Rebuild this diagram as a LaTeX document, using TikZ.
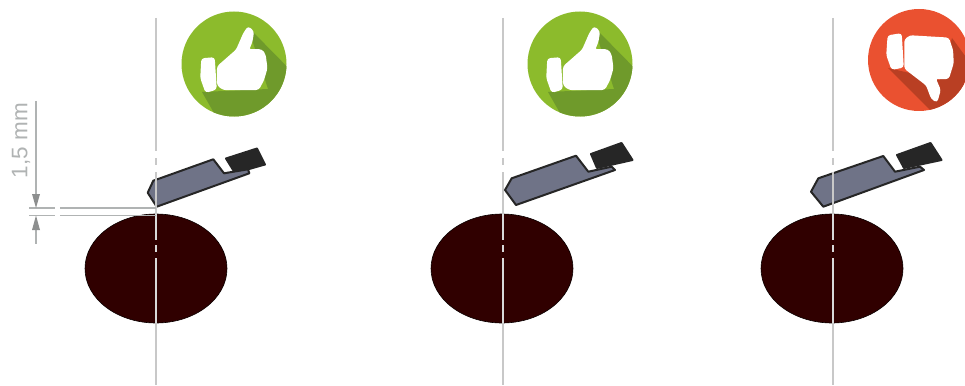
\documentclass[tikz,border=0pt]{standalone}
\usepackage{fontspec}
\setmainfont{Liberation Sans}
\usetikzlibrary{arrows.meta}
\definecolor{cgreen}{HTML}{8CBB2C}
\definecolor{cgreenS}{HTML}{6F9A2B}
\definecolor{cred}{HTML}{EA5130}
\definecolor{credS}{HTML}{B93F23}
\definecolor{cbar}{HTML}{300000}
\definecolor{cline}{HTML}{C8C8C8}
\definecolor{cdim}{HTML}{B0B3B3}
\definecolor{ctool}{HTML}{6F7387}
\definecolor{cins}{HTML}{262626}
\tikzset{
  bar/.style={fill=cbar,draw=black!80!cbar,line width=.6pt},
  holder/.style={fill=ctool,draw=black!85,line width=2pt,line join=round},
  insert/.style={fill=cins,draw=cins,line width=2pt,line join=round},
  axisline/.style={draw=cline,line width=1.3pt},
  axisin/.style={draw=cline!70!white,line width=1.3pt},
  dimline/.style={draw=cdim,line width=1.1pt},
  hand/.style={fill=white,draw=white,line width=1.5pt,rounded corners=2.5pt}
}
\newcommand{\axisat}[1]{%
  \draw[axisline] (#1,18) -- (#1,151);
  \draw[axisline] (#1,158) -- (#1,165);
  \draw[axisline] (#1,172) -- (#1,214);
  \draw[axisin] (#1,214) -- (#1,240);
  \draw[axisin] (#1,245) -- (#1,252);
  \draw[axisin] (#1,258) -- (#1,323);
  \draw[axisline] (#1,323) -- (#1,385);
}
\newcommand{\thumbup}[2]{%
  \begin{scope}[shift={(#1,#2)}]
    \fill[cgreen] (0,0) circle (52.5);
    \begin{scope}
      \clip (0,0) circle (52.5);
      \fill[cgreenS] (14,-37) -- (80,30) -- (40,70) -- (-8,70) -- (-32,28) -- (34,25) -- cycle;
    \end{scope}
    \fill[hand] (-32,-5) -- (-20,-6) -- (-18,25) -- (-28,28) -- (-33,14) -- cycle;
    \fill[hand] (-16.3,2.7) -- (2.7,-14) -- (10,-30.7) -- (14.3,-37) -- (19.3,-32.3) -- (17.7,-22.3) -- (14.3,-14) -- (27.7,-14) -- (31,-9) -- (32.7,4.3) -- (29.3,16) -- (24.3,25.3) -- (-10.7,25.3) -- (-16.3,21) -- cycle;
  \end{scope}
}
\begin{document}
\begin{tikzpicture}[x=1pt,y=-1pt]
\useasboundingbox (0,0) rectangle (965,385);
% bars
\draw[bar] (156,268.5) ellipse (71 and 54.5);
\draw[bar] (502,268.5) ellipse (71 and 54.5);
\draw[bar] (832,268.5) ellipse (71 and 54.5);
% tool 1
\draw[insert] (226,158.5) -- (257,148.5) -- (265,164.5) -- (235,173) -- cycle;
\draw[holder] (156.7,206.7) -- (147.7,192.7) -- (153.3,180.7) -- (213.3,159.3) -- (224,173.3) -- (248,169.3) -- (249.3,173.3) -- cycle;
% tool 2
\draw[insert] (591,154) -- (621.5,143) -- (632.5,160) -- (597,168) -- cycle;
\draw[holder] (516,205) -- (505,190) -- (511.7,178.3) -- (576,155.7) -- (588.3,171.7) -- (611.7,166.7) -- (615,170) -- cycle;
% tool 3
\draw[insert] (897,155) -- (930.5,143) -- (941.5,160) -- (904,168) -- cycle;
\draw[holder] (823.3,206.7) -- (811,191.7) -- (818.3,178.3) -- (883.3,156) -- (895,171.7) -- (920,166.7) -- (924,170) -- cycle;
% axes
\axisat{156}
\axisat{503}
\axisat{833}
% dimension
\draw[dimline] (29,208) -- (55,208);
\draw[dimline] (60,208) -- (156,208);
\draw[dimline] (29,215.5) -- (55,215.5);
\draw[dimline] (60,215.5) -- (156,215.5);
\draw[dimline] (36,101) -- (36,195);
\draw[dimline] (36,230) -- (36,244);
\fill[cdim!80!black] (32,194) -- (40,194) -- (36,208) -- cycle;
\fill[cdim!80!black] (32,230) -- (40,230) -- (36,215.5) -- cycle;
\node[rotate=90,text=cdim,font=\fontsize{22.5}{22.5}\selectfont,inner sep=0pt] (dimtext) at (21,140.5) {1,5 mm};
% icons
\thumbup{234}{64}
\thumbup{580}{64}
\begin{scope}
  \fill[cred] (919,60) circle (51);
  \begin{scope}
    \clip (919,60) circle (51);
    \fill[credS] (888,68) -- (950,130) -- (990,90) -- (952,38) -- (940,80) -- cycle;
  \end{scope}
  \fill[hand] (888.3,36) -- (901,34) -- (903,67) -- (892,69) -- (887,55) -- cycle;
  \fill[hand] (905,40) -- (910,36) -- (948.3,38.3) -- (952.3,50) -- (953,63) -- (948.3,78.3) -- (935,78.3) -- (940,90) -- (936.7,101.7) -- (931.7,98.3) -- (926.7,85) -- (905,68.3) -- cycle;
\end{scope}
\end{tikzpicture}
\end{document}
